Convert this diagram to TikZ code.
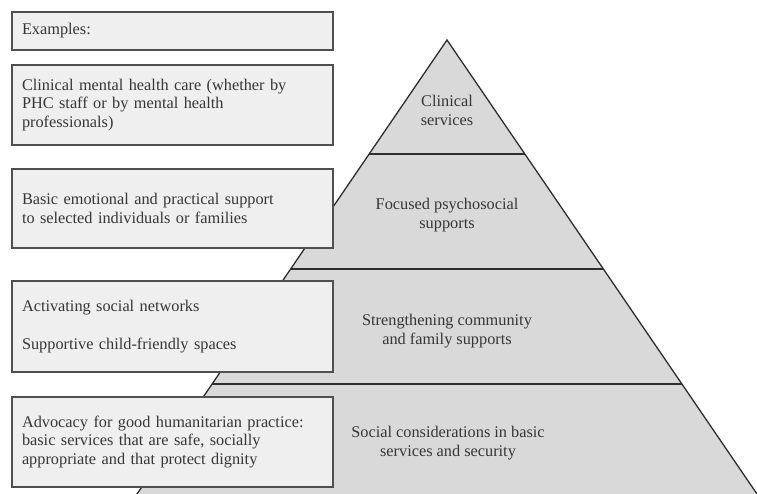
\documentclass[tikz,border=0pt]{standalone}
\usepackage{fontspec}
\setmainfont{Liberation Serif}
\usetikzlibrary{calc}
\definecolor{boxfill}{HTML}{EFEFEF}
\definecolor{boxline}{HTML}{505050}
\definecolor{tierfill}{HTML}{D9D9D9}
\definecolor{tierline}{HTML}{2E2E2E}
\definecolor{inkgray}{HTML}{363636}
\tikzset{
	examplebox/.style={draw=boxline,line width=1.6pt,fill=boxfill,anchor=north west,outer sep=0pt,
		text width=301pt,inner xsep=10pt,align=left,text=inkgray,font=\fontsize{16.3}{18.5}\selectfont},
	tierlabel/.style={align=center,text=inkgray,font=\fontsize{16.3}{19}\selectfont},
	tierrule/.style={draw=tierline,line width=1.3pt}
}
\begin{document}
\begin{tikzpicture}[x=1pt,y=-1pt]
			\useasboundingbox (0,0) rectangle (757,494);
			\begin{scope}
				\clip (0,0) rectangle (757,494);
				% pyramid
				\coordinate (apex) at (447,40);
				\coordinate (baseR) at (757,494);
				\coordinate (baseL) at (137,494);
				\fill [tierfill] (apex) -- ($(apex)!1.05!(baseR)$) -- ($(apex)!1.05!(baseL)$) -- cycle;
				\draw [tierrule] ($(apex)!1.05!(baseL)$) -- (apex) -- ($(apex)!1.05!(baseR)$);
				\draw [tierrule] ($(apex)!0.2511!(baseL)$) -- ($(apex)!0.2511!(baseR)$);
				\draw [tierrule] ($(apex)!0.5044!(baseL)$) -- ($(apex)!0.5044!(baseR)$);
				\draw [tierrule] ($(apex)!0.7577!(baseL)$) -- ($(apex)!0.7577!(baseR)$);
			\end{scope}
			\node [tierlabel] (clin) at (447,110) {Clinical\\services};
			\node [tierlabel] (focus) at (447,215) {Focused psychosocial\\supports};
			\node [tierlabel] (comm) at (447,331) {Strengthening community\\and family supports};
			\node [tierlabel] (basic) at (448,443) {Social considerations in basic\\services and security};
			% examples
			\node [examplebox,minimum height=38pt] (ex) at (12,12) {Examples:};
			\node [examplebox,minimum height=80pt] (exclin) at (12,65) {Clinical mental health care (whether by\\PHC staff or by mental health\\professionals)};
			\node [examplebox,minimum height=79pt] (exfocus) at (12,169) {Basic emotional and practical support\\to selected individuals or families};
			\node [examplebox,minimum height=91pt] (excomm) at (12,281) {Activating social networks\\[19pt]Supportive child-friendly spaces};
			\node [examplebox,minimum height=90pt] (exbasic) at (12,397) {Advocacy for good humanitarian practice:\\basic services that are safe, socially\\appropriate and that protect dignity};
		\end{tikzpicture}
\end{document}
